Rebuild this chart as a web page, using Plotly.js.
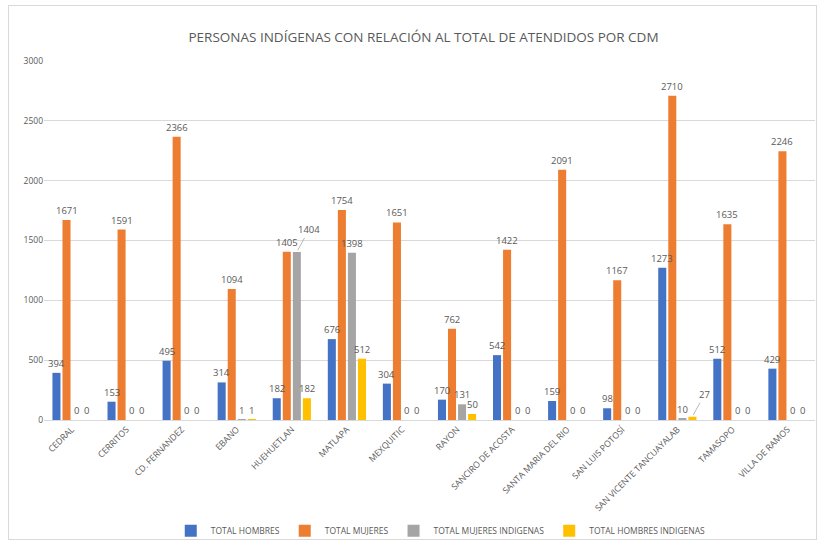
<!DOCTYPE html>
<html><head><meta charset="utf-8">
<script src="https://cdn.plot.ly/plotly-3.0.1.min.js"></script>
<style>body{margin:0;background:#fff}#frame{position:absolute;left:8px;top:5px;width:809px;height:535px;border:1px solid #d9d9d9;box-sizing:border-box;pointer-events:none}</style>
</head><body>
<div id="chart" style="width:823px;height:545px"></div>
<div id="frame"></div>
<script>
const categories = ["CEDRAL","CERRITOS","CD. FERNANDEZ","EBANO","HUEHUETLAN","MATLAPA","MEXQUITIC","RAYON","SANCIRO DE ACOSTA","SANTA MARIA DEL RIO","SAN LUIS POTOSÍ","SAN VICENTE TANCUAYALAB","TAMASOPO","VILLA DE RAMOS"];
const totalHombres = [394,153,495,314,182,676,304,170,542,159,98,1273,512,429];
const totalMujeres = [1671,1591,2366,1094,1405,1754,1651,762,1422,2091,1167,2710,1635,2246];
const mujeresIndigenas = [0,0,0,1,1404,1398,0,131,0,0,0,10,0,0];
const hombresIndigenas = [0,0,0,1,182,512,0,50,0,0,0,27,0,0];
const seriesNames = ["TOTAL HOMBRES","TOTAL MUJERES","TOTAL MUJERES INDIGENAS","TOTAL HOMBRES INDIGENAS"];
const colors = ["#4472C4","#ED7D31","#A5A5A5","#FFC000"];
// labels drawn with a leader line: [series index, category index]
const calloutLabels = [[2,4],[3,11]];
const all = [totalHombres,totalMujeres,mujeresIndigenas,hombresIndigenas];
const lblFont = {size:9.5,color:'#595959',family:'Open Sans'};
const isCallout = (s,c)=>calloutLabels.some(p=>p[0]===s&&p[1]===c);
const data = all.map((v,i)=>({
  type:'bar', x:categories, y:v, name:seriesNames[i],
  marker:{color:colors[i]}, hoverinfo:'y+name'
}));
const slotOffsets = [-15,-5,5,15];
const annotations = [];
all.forEach((v,s)=>v.forEach((d,c)=>{
  if(isCallout(s,c)){
    annotations.push({x:categories[c], y:d, xref:'x', yref:'y', xshift:slotOffsets[s],
      text:String(d), showarrow:true, arrowhead:0, arrowwidth:0.8, arrowcolor:'#a6a6a6',
      ax:12, ay:-22, standoff:2, font:lblFont});
  } else {
    annotations.push({x:categories[c], y:d, xref:'x', yref:'y', xshift:slotOffsets[s], yshift:1,
      text:String(d), showarrow:false, yanchor:'bottom', xanchor:'center', font:lblFont});
  }
}));
const layout = {
  width:823, height:545,
  margin:{l:44,r:8,t:61,b:125},
  paper_bgcolor:'#fff', plot_bgcolor:'#fff',
  title:{text:'PERSONAS INDÍGENAS CON RELACIÓN AL TOTAL DE ATENDIDOS POR CDM',
    font:{family:'Open Sans',size:13.5,color:'#595959'}, x:0.5146, xanchor:'center', y:0.932, yanchor:'middle'},
  barmode:'group', bargap:0.27, bargroupgap:0.2,
  xaxis:{tickangle:-45, tickfont:{family:'Open Sans',size:8.7,color:'#595959'}, showline:true, linecolor:'#d9d9d9', ticks:'', automargin:false},
  yaxis:{range:[0,3000], dtick:500, gridcolor:'#d9d9d9', zeroline:false, automargin:false,
    tickfont:{family:'Open Sans',size:8.5,color:'#595959'}, ticklen:0},
  annotations:annotations,
  showlegend:true,
  legend:{orientation:'h', x:0.5146, xanchor:'center', yref:'container', y:0.026, yanchor:'middle',
    font:{family:'Open Sans',size:8.5,color:'#595959'}, itemwidth:30, traceorder:'normal'},
  font:{family:'Open Sans'}
};
Plotly.newPlot('chart', data, layout, {displayModeBar:false});
</script>
</body></html>
